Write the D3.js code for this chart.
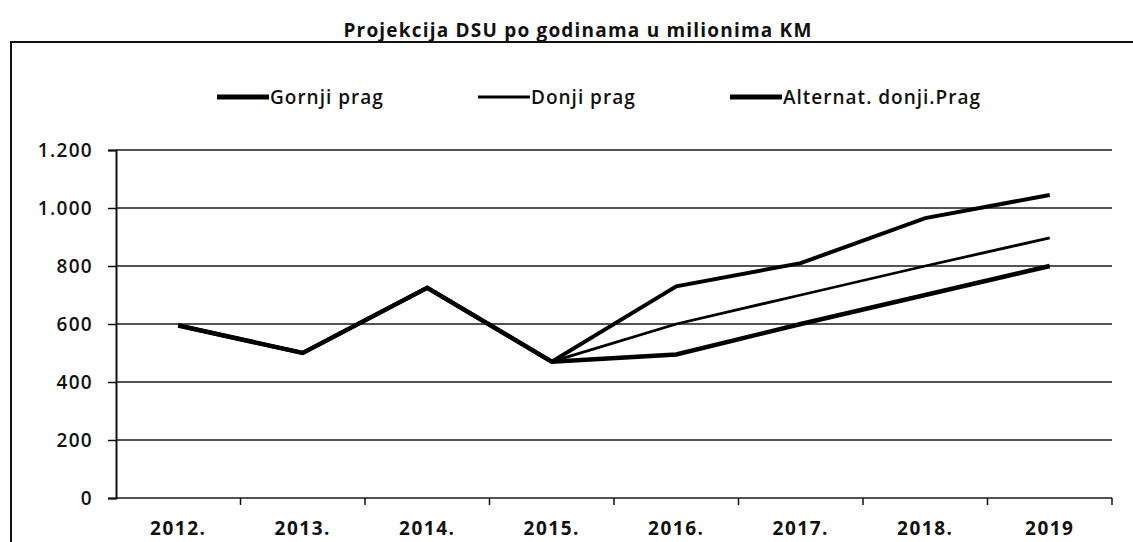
<!DOCTYPE html>
<html>
<head>
<meta charset="utf-8">
<script src="https://cdn.jsdelivr.net/npm/d3@7"></script>
<style>
  body { margin: 0; background: #fff; }
  svg text { font-family: "Open Sans", "DejaVu Sans", sans-serif; fill: #111; }
</style>
</head>
<body>
<script>
// chart data
var years = ["2012.", "2013.", "2014.", "2015.", "2016.", "2017.", "2018.", "2019"];
var gornji = [595, 500, 725, 470, 730, 810, 965, 1045];
var donji = [595, 500, 725, 470, 600, 700, 800, 897];
var alternat = [595, 500, 725, 470, 495, 600, 700, 800];
var yTicks = [0, 200, 400, 600, 800, 1000, 1200];
var seriesNames = ["Gornji prag", "Donji prag", "Alternat. donji.Prag"];

var svgWidth = 1133, svgHeight = 542;
var margin = { left: 116, right: 21, top: 150, bottom: 44 };

var svg = d3.select("body").append("svg")
  .attr("width", svgWidth)
  .attr("height", svgHeight);

// outer frame of the chart (runs off the right and bottom of the scan)
svg.append("path")
  .attr("d", "M11," + svgHeight + "V42H" + svgWidth)
  .attr("fill", "none")
  .attr("stroke", "#111")
  .attr("stroke-width", 2);

svg.append("text")
  .attr("x", 578)
  .attr("y", 37)
  .attr("text-anchor", "middle")
  .style("font-size", "19px")
  .style("font-weight", "700")
  .style("letter-spacing", "1.2px")
  .text("Projekcija DSU po godinama u milionima KM");

var x = d3.scaleBand()
  .domain(years)
  .range([margin.left, svgWidth - margin.right])
  .padding(0);

var y = d3.scaleLinear()
  .domain([0, 1200])
  .range([svgHeight - margin.bottom, margin.top]);

function cx(d, i) { return x(years[i]) + x.bandwidth() / 2; }

// gridlines
svg.append("g")
  .selectAll("line")
  .data(yTicks)
  .enter()
  .append("line")
  .attr("x1", margin.left)
  .attr("x2", svgWidth - margin.right)
  .attr("y1", d => y(d))
  .attr("y2", d => y(d))
  .attr("stroke", "#1a1a1a")
  .attr("stroke-width", 1.6);

// y axis
var leftAxis = d3.axisLeft(y)
  .tickValues(yTicks)
  .tickSize(8)
  .tickPadding(15)
  .tickFormat(d => d3.format(",")(d).replace(/,/g, "."));

var yAxis = svg.append("g")
  .attr("transform", "translate(" + margin.left + ",0)")
  .call(leftAxis);
yAxis.select(".domain").attr("stroke", "#111").attr("stroke-width", 2);
yAxis.selectAll(".tick line").attr("stroke", "#111").attr("stroke-width", 1.5);
yAxis.selectAll("text")
  .style("font-size", "19px")
  .style("font-weight", "600")
  .style("letter-spacing", "1.3px")
  .attr("fill", "#111");

// x axis: tick marks between categories, labels centred
var xAxisY = y(0);
svg.append("g")
  .selectAll("line")
  .data(years)
  .enter()
  .append("line")
  .attr("x1", d => x(d) + x.bandwidth())
  .attr("x2", d => x(d) + x.bandwidth())
  .attr("y1", xAxisY)
  .attr("y2", xAxisY + 7)
  .attr("stroke", "#111")
  .attr("stroke-width", 1.5);

svg.append("g")
  .selectAll("text")
  .data(years)
  .enter()
  .append("text")
  .attr("x", d => x(d) + x.bandwidth() / 2)
  .attr("y", 535)
  .attr("text-anchor", "middle")
  .style("font-size", "19px")
  .style("font-weight", "700")
  .style("letter-spacing", "1.5px")
  .text(d => d);

// lines
var line = d3.line()
  .x(cx)
  .y(d => y(d));

var series = [
  { name: seriesNames[0], values: gornji, width: 4 },
  { name: seriesNames[1], values: donji, width: 2.8 },
  { name: seriesNames[2], values: alternat, width: 4.5 }
];

svg.append("g")
  .selectAll("path")
  .data(series)
  .enter()
  .append("path")
  .attr("d", d => line(d.values))
  .attr("fill", "none")
  .attr("stroke", "#000")
  .attr("stroke-width", d => d.width)
  .attr("stroke-linejoin", "miter");

// legend
var legendX = [217, 478, 730];
var legend = svg.append("g")
  .selectAll("g")
  .data(series)
  .enter()
  .append("g")
  .attr("transform", (d, i) => "translate(" + legendX[i] + ",97)");

legend.append("line")
  .attr("x1", 0)
  .attr("x2", 52)
  .attr("stroke", "#000")
  .attr("stroke-width", (d, i) => i == 1 ? 3 : 5);

legend.append("text")
  .attr("x", 53)
  .attr("y", 7)
  .style("font-size", "19px")
  .style("font-weight", "600")
  .style("letter-spacing", "1px")
  .text(d => d.name);
</script>
</body>
</html>
